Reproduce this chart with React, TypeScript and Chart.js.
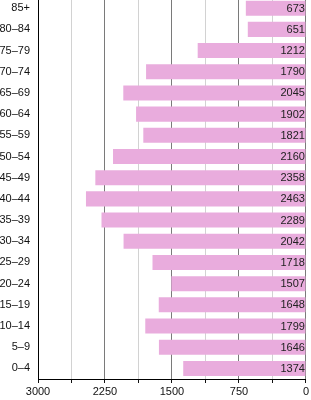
import React, { useEffect, useRef } from "react";
import { Chart, registerables } from "chart.js";

Chart.register(...registerables);

const categories = ["85+", "80–84", "75–79", "70–74", "65–69", "60–64", "55–59", "50–54", "45–49", "40–44", "35–39", "30–34", "25–29", "20–24", "15–19", "10–14", "5–9", "0–4"];
const values = [673, 651, 1212, 1790, 2045, 1902, 1821, 2160, 2358, 2463, 2289, 2042, 1718, 1507, 1648, 1799, 1646, 1374];
const axisMin = 0;
const axisMax = 3000;
const gridStep = 375;
const labelStep = 750;

const FONT = "'Liberation Sans', Arial, Helvetica, sans-serif";

const valueLabels = {
  id: "valueLabels",
  afterDatasetsDraw(chart: any) {
    const { ctx } = chart;
    const meta = chart.getDatasetMeta(0);
    const xs = chart.scales.x;
    ctx.save();
    ctx.font = `11px ${FONT}`;
    ctx.fillStyle = "#222";
    ctx.textAlign = "right";
    ctx.textBaseline = "middle";
    const x0 = xs.getPixelForValue(0);
    meta.data.forEach((el: any, i: number) => {
      ctx.fillText(String(values[i]), x0 - 1, el.y + 0.5);
    });
    ctx.restore();
  },
};

export default function App() {
  const ref = useRef<HTMLCanvasElement>(null);
  useEffect(() => {
    if (!ref.current) return;
    const chart = new Chart(ref.current, {
      type: "bar",
      data: {
        labels: categories,
        datasets: [
          {
            data: values,
            backgroundColor: "rgb(233,172,221)",
            borderWidth: 0,
            barPercentage: 0.71,
            categoryPercentage: 1,
          },
        ],
      },
      options: {
        indexAxis: "y",
        animation: false,
        responsive: false,
        maintainAspectRatio: false,
        layout: { autoPadding: false, padding: { top: 0, right: 5, left: 0, bottom: 0 } },
        plugins: { legend: { display: false }, tooltip: { enabled: false } },
        scales: {
          x: {
            type: "linear",
            min: axisMin,
            max: axisMax,
            reverse: true,
            afterFit(scale: any) {
              scale.height = 21;
            },
            ticks: {
              stepSize: gridStep,
              autoSkip: false,
              maxRotation: 0,
              padding: 2,
              color: "#111",
              font: { family: FONT, size: 11 },
              callback: (v: any) => (Number(v) % labelStep === 0 ? String(v) : ""),
            },
            grid: {
              color: (c: any) => {
                const v = c.tick ? c.tick.value : 0;
                return v % labelStep === 0 ? "#7a7a7a" : "#d2d2d2";
              },
              tickColor: "#111",
              tickLength: 4,
              lineWidth: 1,
            },
            border: { display: true, color: "#000", width: 1 },
          },
          y: {
            afterFit(scale: any) {
              scale.width = 38;
            },
            ticks: {
              padding: 8,
              color: "#111",
              font: { family: FONT, size: 11 },
              autoSkip: false,
            },
            grid: { display: false, drawTicks: false },
            border: { display: true, color: "#000", width: 1 },
          },
        },
      },
      plugins: [valueLabels],
    });
    return () => chart.destroy();
  }, []);
  return (
    <div style={{ position: "fixed", left: 0, top: -17, width: 311, height: 417 }}>
      <canvas ref={ref} width={311} height={417} style={{ width: 311, height: 417, display: "block" }} />
    </div>
  );
}
